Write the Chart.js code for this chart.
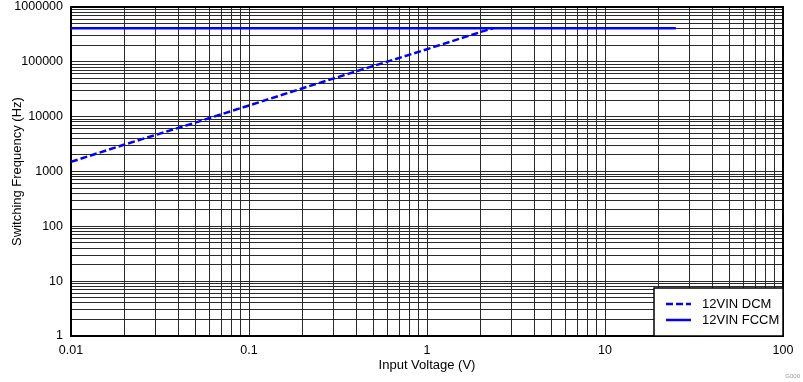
<!DOCTYPE html>
<html>
<head>
<meta charset="utf-8">
<script src="https://cdn.jsdelivr.net/npm/chart.js@4/dist/chart.umd.min.js"></script>
<style>
html,body{margin:0;padding:0;background:#fff;}
#wrap{width:803px;height:382px;position:relative;}
</style>
</head>
<body>
<div id="wrap"><canvas id="c" width="803" height="382"></canvas></div>
<script>
// ---- data ----
const dcmCurrent = [0.01, 0.02, 0.05, 0.1, 0.2, 0.5, 1, 2, 2.35];
const dcmFreq    = [1500, 3100, 7800, 16000, 33000, 84000, 170000, 350000, 410000];
const fccmCurrent = [0.01, 25];
const fccmFreq    = [410000, 410000];
const seriesNames = ['12VIN DCM', '12VIN FCCM'];
const xDecades = [0.01, 0.1, 1, 10, 100];
const xTickLabels = ['0.01', '0.1', '1', '10', '100'];
const yDecades = [1, 10, 100, 1000, 10000, 100000, 1000000];
const yTickLabels = ['1', '10', '100', '1000', '10000', '100000', '1000000'];
const xTitle = 'Input Voltage (V)';
const yTitle = 'Switching Frequency (Hz)';
const footNote = 'G000';

function logTicks(decades) {
  const out = [];
  for (let i = 0; i < decades.length - 1; i++) {
    for (let m = 1; m <= 9; m++) out.push(+(decades[i] * m).toPrecision(6));
  }
  out.push(decades[decades.length - 1]);
  return out.map(v => ({value: v}));
}
function labelFor(v, decades, labels) {
  for (let i = 0; i < decades.length; i++) {
    if (Math.abs(v / decades[i] - 1) < 1e-6) return labels[i];
  }
  return '';
}

const FONT = 'Arial, "Liberation Sans", sans-serif';

const framePlugin = {
  id: 'frame',
  beforeDatasetsDraw(chart) {
    const {ctx, chartArea: a} = chart;
    ctx.save();
    ctx.strokeStyle = '#000';
    ctx.lineWidth = 2;
    ctx.strokeRect(a.left, a.top, a.right - a.left, a.bottom - a.top);
    ctx.restore();
  },
  afterDraw(chart) {
    const {ctx, chartArea: a} = chart;
    ctx.save();
    // legend box
    const bx = 654, by = 288, bw = a.right - 654, bh = a.bottom - 288;
    ctx.fillStyle = '#fff';
    ctx.fillRect(bx, by, bw, bh);
    ctx.strokeStyle = '#000';
    ctx.lineWidth = 1.5;
    ctx.strokeRect(bx, by, bw, bh);
    chart.data.datasets.forEach((ds, i) => {
      const y = 304 + i * 16;
      ctx.strokeStyle = ds.borderColor;
      ctx.lineWidth = ds.borderWidth;
      ctx.setLineDash(ds.borderDash || []);
      ctx.beginPath();
      ctx.moveTo(666, y);
      ctx.lineTo(691, y);
      ctx.stroke();
      ctx.setLineDash([]);
      ctx.fillStyle = '#000';
      ctx.font = '13px ' + FONT;
      ctx.textBaseline = 'middle';
      ctx.textAlign = 'left';
      ctx.fillText(ds.label, 702, y);
    });
    ctx.fillStyle = '#999';
    ctx.font = '6px ' + FONT;
    ctx.textAlign = 'right';
    ctx.textBaseline = 'middle';
    ctx.fillText(footNote, 800, 376);
    ctx.restore();
  }
};

new Chart(document.getElementById('c'), {
  type: 'scatter',
  data: {
    datasets: [
      {
        label: seriesNames[0],
        data: dcmCurrent.map((x, i) => ({x, y: dcmFreq[i]})),
        showLine: true,
        borderColor: '#0000FF',
        borderWidth: 2.5,
        borderDash: [7, 3],
        pointRadius: 0,
        fill: false
      },
      {
        label: seriesNames[1],
        data: fccmCurrent.map((x, i) => ({x, y: fccmFreq[i]})),
        showLine: true,
        borderColor: '#0000FF',
        borderWidth: 2.5,
        pointRadius: 0,
        fill: false
      }
    ]
  },
  options: {
    responsive: false,
    animation: false,
    devicePixelRatio: 1,
    layout: {padding: {top: 7, right: 20, left: 0, bottom: 0}},
    plugins: {legend: {display: false}, tooltip: {enabled: false}},
    scales: {
      x: {
        type: 'logarithmic',
        min: xDecades[0], max: xDecades[xDecades.length - 1],
        afterBuildTicks(s) { s.ticks = logTicks(xDecades); },
        afterFit(s) { s.height = 46; s.paddingLeft = 0; s.paddingRight = 0; },
        grid: {color: '#2a2a2a', lineWidth: 1, drawTicks: false},
        border: {display: false},
        ticks: {
          autoSkip: false, maxRotation: 0, padding: 7, color: '#000',
          font: {family: FONT, size: 12.5},
          callback: (v) => labelFor(v, xDecades, xTickLabels)
        },
        title: {display: true, text: xTitle, color: '#000', font: {family: FONT, size: 13}, padding: {top: 0, bottom: 9}}
      },
      y: {
        type: 'logarithmic',
        min: yDecades[0], max: yDecades[yDecades.length - 1],
        afterBuildTicks(s) { s.ticks = logTicks(yDecades); },
        afterFit(s) { s.width = 71; s.paddingTop = 0; s.paddingBottom = 0; },
        grid: {color: '#2a2a2a', lineWidth: 1, drawTicks: false},
        border: {display: false},
        ticks: {
          autoSkip: false, padding: 8, color: '#000',
          font: {family: FONT, size: 12.5},
          callback: (v) => labelFor(v, yDecades, yTickLabels)
        },
        title: {display: true, text: yTitle, color: '#000', font: {family: FONT, size: 13}, padding: {top: 10, bottom: 0}}
      }
    }
  },
  plugins: [framePlugin]
});
</script>
</body>
</html>
